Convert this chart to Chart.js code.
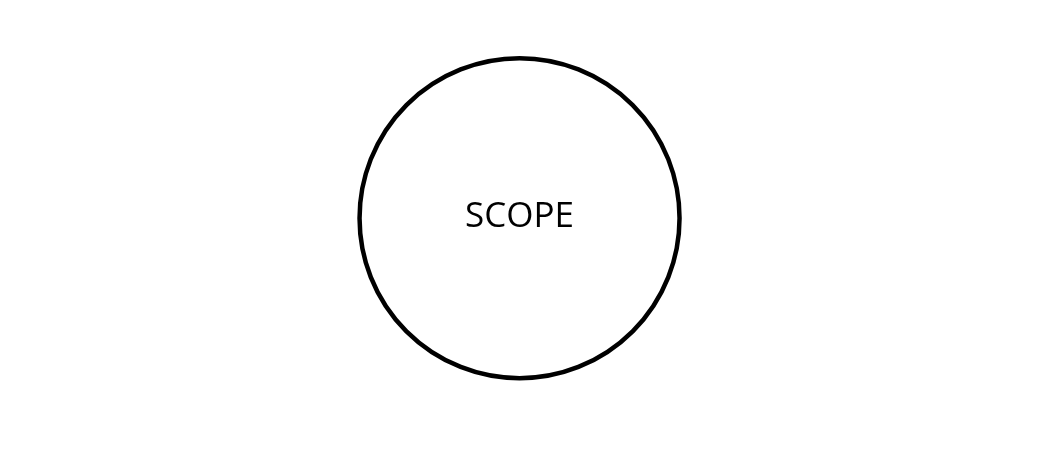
<!DOCTYPE html>
<html><head><meta charset="utf-8">
<script src="https://cdn.jsdelivr.net/npm/chart.js@4"></script>
<style>html,body{margin:0;padding:0;background:#fff}#w{width:1048px;height:460px}</style>
</head><body><div id="w"><canvas id="c"></canvas></div>
<script>
const labels = ["SCOPE"];
const xValues = [0];
const yValues = [0];
const centerLabel = {
  id: 'centerLabel',
  afterDatasetsDraw(chart) {
    const ctx = chart.ctx;
    const meta = chart.getDatasetMeta(0);
    meta.data.forEach((pt, i) => {
      ctx.save();
      ctx.fillStyle = '#000';
      ctx.font = '35px "Open Sans"';
      ctx.textAlign = 'center';
      ctx.textBaseline = 'middle';
      ctx.fillText(labels[i], pt.x, pt.y - 1);
      ctx.restore();
    });
  }
};
new Chart(document.getElementById('c'), {
  type: 'scatter',
  data: { datasets: [{
    data: xValues.map((x, i) => ({ x, y: yValues[i] })),
    pointRadius: 160, pointHoverRadius: 160,
    pointBackgroundColor: '#fff', pointBorderColor: '#000',
    pointBorderWidth: 4.5, pointHoverBorderWidth: 4.5, clip: false
  }]},
  options: {
    responsive: true, maintainAspectRatio: false, animation: false,
    layout: { padding: 0 },
    events: [],
    plugins: { legend: { display: false }, tooltip: { enabled: false } },
    scales: {
      x: { display: false, min: -517.5, max: 530.5 },
      y: { display: false, min: -271.5, max: 188.5 }
    }
  },
  plugins: [centerLabel]
});
</script></body></html>
